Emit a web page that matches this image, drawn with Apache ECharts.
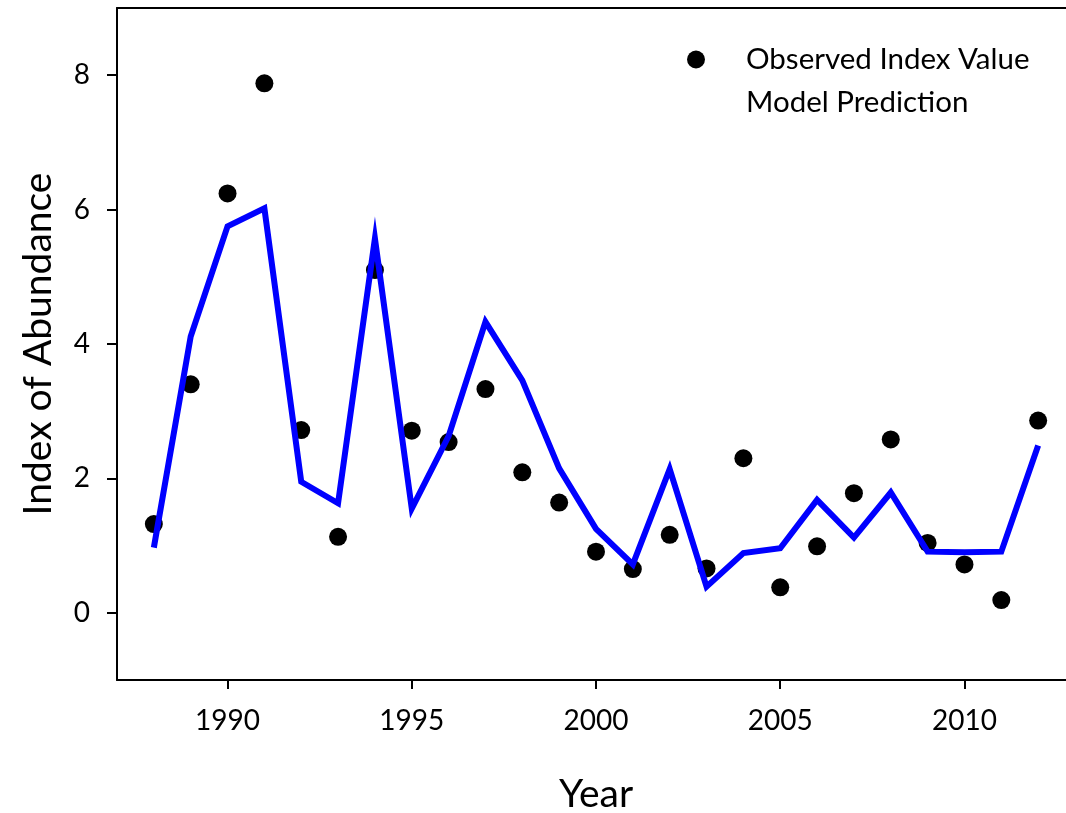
<!DOCTYPE html>
<html>
<head>
<meta charset="utf-8">
<script src="https://cdn.jsdelivr.net/npm/echarts@6/dist/echarts.min.js"></script>
<style>
html,body{margin:0;padding:0;background:#fff;overflow:hidden;}
#chart{width:1066px;height:813px;}
</style>
</head>
<body>
<div id="chart"></div>
<script>
const years = [1988,1989,1990,1991,1992,1993,1994,1995,1996,1997,1998,1999,2000,2001,2002,2003,2004,2005,2006,2007,2008,2009,2010,2011,2012];
const observed = [1.32,3.40,6.24,7.88,2.72,1.13,5.10,2.71,2.54,3.33,2.09,1.64,0.91,0.65,1.16,0.66,2.30,0.38,0.99,1.78,2.58,1.04,0.72,0.19,2.86];
const predicted = [0.97,4.11,5.75,6.02,1.95,1.63,5.57,1.55,2.63,4.33,3.46,2.15,1.25,0.72,2.14,0.39,0.89,0.96,1.68,1.12,1.79,0.91,0.90,0.91,2.49];
const xTicks = [1990,1995,2000,2005,2010];
const yTicks = [0,2,4,6,8];

const FONT = 'Lato';
const chart = echarts.init(document.getElementById('chart'), null, {renderer:'canvas'});
chart.setOption({
  animation:false,
  backgroundColor:'#fff',
  textStyle:{fontFamily:FONT,color:'#000'},
  grid:{left:117, top:8, width:958, height:672, outerBoundsMode:'none', containLabel:false, show:false},
  legend:{
    orient:'vertical', left:682, top:33, itemWidth:18, itemHeight:18, itemGap:0,
    textStyle:{fontFamily:FONT, fontSize:29.5, color:'#000', lineHeight:43, padding:[0,0,0,36]},
    itemStyle:{opacity:1},
    data:[{name:'Observed Index Value', icon:'circle'},{name:'Model Prediction', icon:'none'}]
  },
  xAxis:[{
    type:'value', min:1987, max:2013,
    name:'Year', nameLocation:'middle', nameGap:95,
    nameTextStyle:{fontFamily:FONT, fontSize:39, color:'#000'},
    axisLine:{show:true, onZero:false, lineStyle:{color:'#000', width:2}},
    axisTick:{show:true, length:9, lineStyle:{color:'#000', width:2}, customValues:xTicks},
    axisLabel:{fontFamily:FONT, fontSize:28, color:'#000', margin:27, customValues:xTicks, formatter:v=>String(v)},
    splitLine:{show:false}
  },{
    type:'value', min:1987, max:2013, position:'top',
    axisLine:{show:true, onZero:false, lineStyle:{color:'#000', width:2}},
    axisTick:{show:false}, axisLabel:{show:false}, splitLine:{show:false}
  }],
  yAxis:{
    type:'value', min:-1, max:9,
    name:'Index of Abundance', nameLocation:'middle', nameGap:59,
    nameTextStyle:{fontFamily:FONT, fontSize:39, color:'#000'},
    axisLine:{show:true, onZero:false, lineStyle:{color:'#000', width:2}},
    axisTick:{show:true, length:10, lineStyle:{color:'#000', width:2}, customValues:yTicks},
    axisLabel:{fontFamily:FONT, fontSize:28, color:'#000', margin:27, customValues:yTicks, formatter:v=>String(v)},
    splitLine:{show:false}
  },
  series:[
    {
      name:'Model Prediction', type:'line', showSymbol:false, symbol:'none',
      data:years.map((y,i)=>[y,predicted[i]]),
      lineStyle:{color:'#0000ff', width:6, cap:'butt', join:'miter'},
      itemStyle:{color:'#0000ff'}, z:2
    },
    {
      name:'Observed Index Value', type:'scatter', symbol:'circle', symbolSize:18,
      data:years.map((y,i)=>[y,observed[i]]),
      itemStyle:{color:'#000', opacity:1}, z:1
    }
  ]
});
</script>
</body>
</html>
